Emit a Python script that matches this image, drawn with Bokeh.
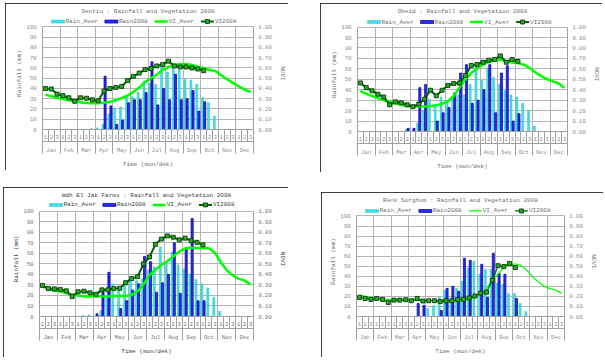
import numpy as np
from bokeh.plotting import figure
from bokeh.models import (Range1d, LinearAxis, FixedTicker, ColumnDataSource, Spacer, Grid,
                          NumeralTickFormatter, InlineStyleSheet)
from bokeh.core.properties import value
from bokeh.layouts import row, column
from bokeh.transform import dodge
from bokeh.embed import file_html
from bokeh.resources import INLINE

# ---------------- data ----------------
months = ["Jan", "Feb", "Mar", "Apr", "May", "Jun", "Jul", "Aug", "Sep", "Oct", "Nov", "Dec"]
dekads = ["1", "2", "3"]
series_names = ["Rain_Aver", "Rain2008", "VI_Aver", "VI2008"]
rain_ticks = [0, 10, 20, 30, 40, 50, 60, 70, 80, 90, 100]
ndvi_ticks = [0.0, 0.1, 0.2, 0.3, 0.4, 0.5, 0.6, 0.7, 0.8, 0.9, 1.0]

title_1 = "Sentiu : Rainfall and Vegetation 2008"
rain_aver_1 = [0, 0, 0, 0, 0, 0, 0, 0, 1, 1.5, 5, 15, 21, 22, 33, 32, 36, 47,
               45, 44, 63, 56, 62, 58, 49, 48, 44, 31, 26, 13, 0, 0, 0, 0, 0, 0]
rain_2008_1 = [0, 0, 0, 0, 0, 0, 0, 0, 0, 0, 52, 23, 5, 9, 26, 29, 29, 36,
               66, 24, 40, 29, 54, 29, 30, 38, 18, 27, 0, 0, 0, 0, 0, 0, 0, 0]
vi_aver_1 = [0.34, 0.325, 0.31, 0.297, 0.285, 0.275, 0.266, 0.258, 0.255, 0.256, 0.26, 0.27,
             0.285, 0.306, 0.33, 0.365, 0.41, 0.46, 0.50, 0.535, 0.58, 0.61, 0.63, 0.64,
             0.64, 0.63, 0.61, 0.60, 0.58, 0.57, 0.53, 0.49, 0.455, 0.42, 0.39, 0.365]
vi_2008_1 = [0.40, 0.395, 0.345, 0.33, 0.31, 0.275, 0.31, 0.305, 0.29, 0.28, 0.375, 0.40,
             0.41, 0.42, 0.477, 0.518, 0.55, 0.585, 0.595, 0.62, 0.635, 0.667, 0.62, 0.61,
             0.61, 0.60, 0.59, 0.574]

title_2 = "Obeid : Rainfall and Vegetation 2008"
rain_aver_2 = [0, 0, 0, 0, 0, 0, 0, 0, 2, 0, 8, 20, 31, 26, 33, 29, 32, 35,
               35, 45, 63, 49, 61, 52, 45, 39, 35, 33, 27, 20, 5, 0, 0, 0, 0, 0]
rain_2008_2 = [0, 0, 0, 0, 0, 0, 0, 0, 3, 3, 42, 45, 0, 10, 18, 23, 37, 56,
               64, 27, 30, 40, 64, 18, 56, 63, 10, 17, 0, 0, 0, 0, 0, 0, 0, 0]
vi_aver_2 = [0.39, 0.36, 0.34, 0.32, 0.30, 0.285, 0.27, 0.255, 0.245, 0.24, 0.24, 0.24,
             0.245, 0.25, 0.265, 0.29, 0.34, 0.42, 0.50, 0.56, 0.60, 0.64, 0.665, 0.68,
             0.69, 0.67, 0.66, 0.655, 0.64, 0.61, 0.565, 0.53, 0.50, 0.48, 0.46, 0.42]
vi_2008_2 = [0.465, 0.42, 0.39, 0.357, 0.33, 0.256, 0.284, 0.275, 0.256, 0.238, 0.262, 0.31,
             0.395, 0.342, 0.395, 0.44, 0.46, 0.465, 0.537, 0.632, 0.642, 0.663, 0.683, 0.69,
             0.724, 0.663, 0.69, 0.672]

title_3 = "Wdh El Jak Farms : Rainfall and Vegetation 2008"
rain_aver_3 = [0, 0, 0, 0, 0, 0, 0, 1, 1.5, 0, 5.5, 17, 31, 27, 34, 34, 34, 36,
               44, 47, 66, 52, 61, 49, 45, 40, 35, 31, 27, 18, 5, 0, 0, 0, 0, 0]
rain_2008_3 = [0, 0, 0, 0, 0, 0, 0, 0, 0, 2.5, 24, 42, 0, 7.5, 15, 25, 31, 57,
               52, 23, 32, 40, 70, 22, 64, 93, 15, 15, 0, 0, 0, 0, 0, 0, 0, 0]
vi_aver_3 = [0.285, 0.26, 0.245, 0.24, 0.22, 0.21, 0.20, 0.19, 0.19, 0.19, 0.19, 0.19,
             0.195, 0.195, 0.195, 0.205, 0.24, 0.305, 0.39, 0.445, 0.49, 0.525, 0.57, 0.615,
             0.645, 0.655, 0.65, 0.652, 0.648, 0.605, 0.515, 0.44, 0.39, 0.36, 0.34, 0.305]
vi_2008_3 = [0.295, 0.265, 0.262, 0.256, 0.244, 0.19, 0.235, 0.24, 0.225, 0.21, 0.253, 0.253,
             0.265, 0.268, 0.32, 0.36, 0.378, 0.5, 0.565, 0.685, 0.735, 0.765, 0.753, 0.728,
             0.744, 0.72, 0.704, 0.68]

title_4 = "Renk Sorghum : Rainfall and Vegetation 2008"
rain_aver_4 = [0, 0, 0, 0, 0, 0, 0, 0, 0, 0, 0, 0, 8, 11, 19, 26, 18, 28,
               35, 48, 55, 42, 47, 47, 33, 32, 23, 23, 13, 5, 0, 0, 0, 0, 0, 0]
rain_2008_4 = [0, 0, 0, 0, 0, 0, 0, 0, 0, 0, 13, 11, 0, 0, 6, 28, 30, 25,
               58, 56, 0, 52, 19, 63, 43, 42, 0, 18, 0, 0, 0, 0, 0, 0, 0, 0]
vi_aver_4 = [0.215, 0.2, 0.19, 0.183, 0.176, 0.17, 0.167, 0.163, 0.163, 0.16, 0.16, 0.16,
             0.16, 0.157, 0.154, 0.15, 0.15, 0.15, 0.154, 0.167, 0.19, 0.23, 0.28, 0.36,
             0.42, 0.49, 0.52, 0.522, 0.506, 0.46, 0.396, 0.343, 0.30, 0.277, 0.264, 0.23]
vi_2008_4 = [0.19, 0.18, 0.17, 0.18, 0.17, 0.14, 0.163, 0.163, 0.167, 0.157, 0.18, 0.154,
             0.157, 0.157, 0.15, 0.157, 0.157, 0.17, 0.173, 0.185, 0.204, 0.233, 0.242, 0.36,
             0.506, 0.497, 0.528, 0.487]

# ---------------- style ----------------
FONT = "Liberation Mono"
CYAN, CYAN_EDGE = "#3EE0E6", "#2CC0C8"
BLUE, BLUE_EDGE = "#2A2AFF", "#000096"
VI_AVER_COL = "#00FF00"
VI_2008_COL = "#006400"
MARK_FILL, MARK_EDGE = "#22B022", "#002800"
GRID = "#B4B4B4"
AXIS = "#A0A0A0"
FRAME_CSS = InlineStyleSheet(css=":host { outline: 1px solid black; outline-offset: -1px; }")
CHAR_W = 3.6  # px per character of the 6px mono font


def panel(title, rain_aver, rain_2008, vi_aver, vi_2008, width, height,
          frame_left, frame_w, frame_top, frame_h, text_col, tick_col,
          band=10, legend_x=9, legend_c=5.5, title_standoff=5, thin=False):
    n = len(months) * len(dekads)
    right = width - frame_left - frame_w
    bottom = height - frame_top - frame_h
    rain_max = rain_ticks[-1]
    ndvi_max = ndvi_ticks[-1]
    stretch = (frame_h + band) / frame_h  # room above the 100 line for the legend
    p = figure(width=width, height=height, output_backend="svg", toolbar_location=None,
               x_range=Range1d(0, n), y_range=Range1d(0, rain_max * stretch),
               x_axis_type=None, y_axis_type=None,
               min_border_left=frame_left, min_border_right=right,
               min_border_top=frame_top - band, min_border_bottom=bottom)
    p.extra_y_ranges = {"ndvi": Range1d(0, ndvi_max * stretch)}
    p.outline_line_color = None
    p.background_fill_color = "white"
    p.border_fill_color = "white"
    p.stylesheets = [FRAME_CSS]

    # grids
    month_bounds = list(range(0, n + 1, len(dekads)))
    try:
        vgrid = Grid(dimension=0, ticker=FixedTicker(ticks=month_bounds),
                     cross_bounds=(0, rain_max), grid_line_color=GRID, grid_line_width=1)
        p.add_layout(vgrid)
    except Exception:
        p.segment(x0=month_bounds, y0=0, x1=month_bounds, y1=rain_max,
                  line_color=GRID, line_width=1)
    p.add_layout(Grid(dimension=1, ticker=FixedTicker(ticks=rain_ticks),
                      grid_line_color=GRID, grid_line_width=1))

    xs = np.arange(n) + 0.5
    ra = np.array(rain_aver, dtype=float)
    r8 = np.array(rain_2008, dtype=float)
    src = ColumnDataSource(dict(x=xs, ra=np.where(ra > 0, ra, np.nan),
                                r8=np.where(r8 > 0, r8, np.nan), va=vi_aver))
    src2 = ColumnDataSource(dict(x=xs[:len(vi_2008)], v=vi_2008))

    lw_aver = 1.2 if thin else 2.5
    lw_2008 = 1.2 if thin else 2
    p.vbar(x=dodge("x", -0.18), top="ra", bottom=0, width=0.34, source=src,
           fill_color=CYAN, line_color=CYAN_EDGE, line_width=0.5)
    p.vbar(x=dodge("x", 0.18), top="r8", bottom=0, width=0.36, source=src,
           fill_color=BLUE, line_color=BLUE_EDGE, line_width=0.7)
    p.line("x", "va", source=src, y_range_name="ndvi", line_color=VI_AVER_COL, line_width=lw_aver)
    p.line("x", "v", source=src2, y_range_name="ndvi", line_color=VI_2008_COL, line_width=lw_2008)
    p.scatter("x", "v", source=src2, y_range_name="ndvi", marker="square", size=4,
              fill_color=MARK_FILL, line_color=MARK_EDGE, line_width=0.8)

    # ---- legend row (drawn in the band above the 100 line) ----
    unit = frame_w / n                      # px per x data unit
    ly_data = rain_max + legend_c * rain_max / frame_h
    sw = 13
    starts = []
    xcur = legend_x
    for name in series_names:
        starts.append(xcur)
        xcur += sw + 1 + len(name) * CHAR_W + 7
    p.rect(x=[(starts[0] + sw / 2) / unit], y=[ly_data], width=sw, height=3,
           width_units="screen", height_units="screen",
           fill_color=CYAN, line_color=CYAN_EDGE, line_width=0.5)
    p.rect(x=[(starts[1] + sw / 2) / unit], y=[ly_data], width=sw, height=3,
           width_units="screen", height_units="screen",
           fill_color=BLUE, line_color=BLUE_EDGE, line_width=0.7)
    p.segment(x0=[starts[2] / unit], y0=[ly_data], x1=[(starts[2] + sw) / unit], y1=[ly_data],
              line_color=VI_AVER_COL, line_width=lw_aver)
    p.segment(x0=[starts[3] / unit], y0=[ly_data], x1=[(starts[3] + sw) / unit], y1=[ly_data],
              line_color=VI_2008_COL, line_width=lw_2008)
    p.scatter(x=[(starts[3] + sw / 2) / unit], y=[ly_data], marker="square", size=4,
              fill_color=MARK_FILL, line_color=MARK_EDGE, line_width=0.8)
    p.text(x=[(s + sw + 1) / unit for s in starts], y=[ly_data] * len(series_names),
           text=series_names, text_font=value(FONT), text_font_size=value("6px"),
           text_baseline="middle", text_align="left", text_color=text_col)

    def style_axis(ax, size="5.5px"):
        ax.axis_line_color = AXIS
        ax.major_tick_in = 0
        ax.major_tick_out = 0
        ax.major_tick_line_color = None
        ax.minor_tick_in = 0
        ax.major_label_text_font = FONT
        ax.major_label_text_font_size = size
        ax.major_label_text_color = tick_col
        ax.axis_label_text_font = FONT
        ax.axis_label_text_font_size = "6px"
        ax.axis_label_text_font_style = "normal"
        ax.axis_label_text_color = text_col

    lax = LinearAxis(ticker=FixedTicker(ticks=rain_ticks), axis_label="Rainfall (mm)",
                     bounds=(0, rain_max))
    style_axis(lax)
    lax.major_label_standoff = 6
    lax.axis_label_standoff = 1
    lax.minor_tick_line_color = None
    p.add_layout(lax, "left")

    rax = LinearAxis(y_range_name="ndvi", ticker=FixedTicker(ticks=ndvi_ticks),
                     formatter=NumeralTickFormatter(format="0.00"), axis_label="NDVI",
                     bounds=(0, ndvi_max))
    style_axis(rax)
    rax.major_label_standoff = 5
    rax.axis_label_standoff = 4
    rax.minor_tick_line_color = None
    p.add_layout(rax, "right")

    dx = LinearAxis(ticker=FixedTicker(ticks=list(xs), minor_ticks=list(range(n + 1))),
                    major_label_overrides={float(x): d for x, d in zip(xs, dekads * len(months))})
    style_axis(dx, "5.5px")
    dx.minor_tick_out = 12
    dx.minor_tick_line_color = AXIS
    dx.major_label_standoff = -7
    p.add_layout(dx, "below")

    mc = np.arange(len(months)) * len(dekads) + len(dekads) / 2
    mx = LinearAxis(ticker=FixedTicker(ticks=list(mc), minor_ticks=month_bounds),
                    major_label_overrides={float(c): m for c, m in zip(mc, months)},
                    axis_label="Time (mon/dek)")
    style_axis(mx, "5.5px")
    mx.minor_tick_out = 12
    mx.minor_tick_line_color = AXIS
    mx.major_label_standoff = -7
    mx.axis_label_standoff = 4
    p.add_layout(mx, "below")

    p.title.text = title
    p.title.align = "center"
    p.title.text_font = FONT
    p.title.text_font_size = "6px"
    p.title.text_font_style = "normal"
    p.title.text_color = text_col
    p.title.standoff = title_standoff
    return p


p1 = panel(title_1, rain_aver_1, rain_2008_1, vi_aver_1, vi_2008_1, 283, 167, 37, 211, 22, 108,
           "#6E6E6E", "#8C8C8C", band=10, legend_x=9, legend_c=5.7, title_standoff=5)
p2 = panel(title_2, rain_aver_2, rain_2008_2, vi_aver_2, vi_2008_2, 282, 169, 37, 211, 23, 109,
           "#6E6E6E", "#8C8C8C", band=10, legend_x=10, legend_c=5.3, title_standoff=5)
p3 = panel(title_3, rain_aver_3, rain_2008_3, vi_aver_3, vi_2008_3, 285, 170, 36, 214, 24, 109,
           "#3A3A3A", "#707070", band=10, legend_x=10, legend_c=6.5, title_standoff=5)
p4 = panel(title_4, rain_aver_4, rain_2008_4, vi_aver_4, vi_2008_4, 282, 165, 35, 208, 22, 106,
           "#6E6E6E", "#8C8C8C", band=10, legend_x=9, legend_c=5.3, title_standoff=5, thin=True)

left_col = column(Spacer(width=285, height=3), row(Spacer(width=2, height=167), p1),
                  Spacer(width=285, height=17), p3)
right_col = column(Spacer(width=283, height=3), p2, Spacer(width=283, height=20),
                   row(Spacer(width=1, height=165), p4))
root = row(Spacer(width=3, height=357), left_col, Spacer(width=32, height=10), right_col)

open("out.html", "w").write(file_html(root, INLINE))
